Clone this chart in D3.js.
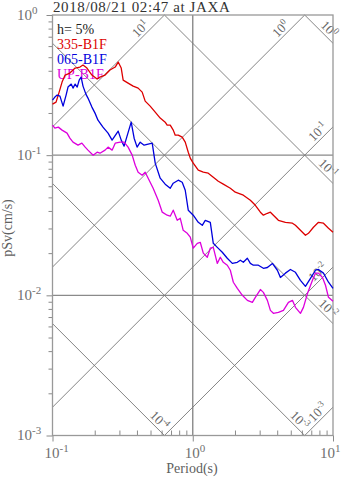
<!DOCTYPE html>
<html>
<head>
<meta charset="utf-8">
<script src="https://cdn.jsdelivr.net/npm/d3@7/dist/d3.min.js"></script>
<style>
  body { margin: 0; background: #fff; }
  svg { display: block; font-family: "Liberation Serif", "DejaVu Serif", serif; }
</style>
</head>
<body>
<div id="chart"></div>
<script>
// pSv spectra, h=5%, 2018/08/21 02:47 at JAXA
var periods335 = [0.100,0.106,0.111,0.117,0.123,0.133,0.145,0.157,0.165,0.176,0.191,0.208,0.218,0.237,0.257,0.280,0.294,0.309,0.319,0.346,0.376,0.408,0.436,0.458,0.497,0.540,0.586,0.636,0.657,0.691,0.726,0.750,0.788,0.841,0.884,0.929,0.960,1.008,1.095,1.189,1.290,1.401,1.521,1.651,1.853,2.012,2.295,2.575,2.795,3.035,3.189,3.405,3.578,3.758,4.080,4.579,5.137,5.397,5.860,6.362,6.683,7.256,7.877,8.552,9.288,10.0];
var sv335 = [0.2313,0.2391,0.2772,0.3322,0.3728,0.3853,0.4183,0.4252,0.4394,0.4183,0.3728,0.3490,0.3607,0.3728,0.4048,0.4252,0.4616,0.4183,0.3433,0.3267,0.3110,0.3010,0.2818,0.2430,0.2239,0.2028,0.1838,0.1720,0.1638,0.1638,0.1509,0.1389,0.1389,0.1344,0.1238,0.1050,0.0952,0.0877,0.0781,0.0756,0.0744,0.0697,0.0652,0.0621,0.0581,0.0544,0.0518,0.0477,0.0439,0.0392,0.0373,0.0385,0.0392,0.0373,0.0343,0.0332,0.0327,0.0316,0.0291,0.0268,0.0277,0.0306,0.0332,0.0327,0.0301,0.0282];

var periods065 = [0.100,0.104,0.108,0.113,0.119,0.125,0.129,0.136,0.140,0.145,0.150,0.155,0.160,0.165,0.173,0.179,0.191,0.201,0.211,0.229,0.249,0.266,0.294,0.309,0.324,0.340,0.364,0.382,0.401,0.422,0.450,0.481,0.514,0.540,0.586,0.636,0.691,0.726,0.788,0.841,0.884,0.929,1.008,1.095,1.169,1.228,1.334,1.401,1.496,1.624,1.763,1.915,2.079,2.184,2.295,2.451,2.575,2.705,2.937,3.189,3.405,3.698,4.013,4.217,4.579,4.972,5.397,5.860,6.362,6.907,7.499,7.877,8.552,9.288,10.0];
var sv065 = [0.2471,0.2596,0.2683,0.2638,0.2239,0.2683,0.3060,0.3215,0.3010,0.3215,0.3060,0.3433,0.3607,0.3110,0.2727,0.2553,0.2203,0.1995,0.1778,0.1585,0.1436,0.1280,0.1484,0.1280,0.1160,0.1366,0.1720,0.1322,0.1141,0.1238,0.1179,0.1199,0.1218,0.0877,0.0685,0.0621,0.0581,0.0631,0.0663,0.0641,0.0562,0.0405,0.0373,0.0332,0.0316,0.0343,0.0332,0.0235,0.0220,0.0203,0.0184,0.0169,0.0172,0.0178,0.0172,0.0184,0.0169,0.0164,0.0164,0.0156,0.0158,0.0169,0.0151,0.0134,0.0144,0.0153,0.0146,0.0128,0.0116,0.0132,0.0151,0.0153,0.0144,0.0124,0.0112];

var periodsUP = [0.100,0.104,0.110,0.117,0.127,0.133,0.140,0.152,0.162,0.171,0.179,0.195,0.208,0.218,0.237,0.249,0.266,0.280,0.304,0.324,0.346,0.370,0.389,0.408,0.436,0.458,0.481,0.522,0.567,0.606,0.657,0.691,0.726,0.775,0.814,0.855,0.914,0.960,1.008,1.077,1.131,1.189,1.269,1.334,1.401,1.496,1.572,1.651,1.763,1.853,1.947,2.079,2.258,2.451,2.661,2.795,3.035,3.189,3.405,3.578,3.758,4.080,4.431,4.810,5.137,5.397,5.860,6.155,6.574,7.138,7.499,7.877,8.414,8.840,9.288,10.0];
var svUP = [0.1638,0.1559,0.1585,0.1509,0.1436,0.1322,0.1238,0.1179,0.1218,0.1141,0.1086,0.1000,0.1050,0.1033,0.1086,0.1141,0.1086,0.1218,0.1238,0.1238,0.1141,0.1000,0.0848,0.0756,0.0720,0.0756,0.0685,0.0581,0.0477,0.0392,0.0373,0.0367,0.0405,0.0343,0.0355,0.0291,0.0277,0.0260,0.0217,0.0235,0.0239,0.0200,0.0187,0.0217,0.0220,0.0169,0.0187,0.0172,0.0164,0.0151,0.0124,0.0112,0.0100,0.00921,0.00891,0.00968,0.0110,0.0105,0.00921,0.00781,0.00744,0.00756,0.00781,0.00891,0.00921,0.00821,0.00744,0.00821,0.0103,0.0128,0.0144,0.0144,0.0134,0.0118,0.00968,0.00906];

var seriesNames = ["335-B1F", "065-B1F", "UP-B1F"];
var seriesColors = ["#dd0000", "#0000dd", "#dd00dd"];

// tripartite guide lines: acceleration (cm/s2) and displacement (cm)
var accelValues = [10, 1, 0.1, 0.01, 0.001];
var accelExps = ["1", "0", "-1", "-2", "-3"];
var dispValues = [1, 0.1, 0.01, 0.001, 0.0001];
var dispExps = ["0", "-1", "-2", "-3", "-4"];

var xTickValues = [0.1, 1, 10];
var xTickExps = ["-1", "0", "1"];
var yTickValues = [1, 0.1, 0.01, 0.001];
var yTickExps = ["0", "-1", "-2", "-3"];

var W = 347, H = 478;
var x = d3.scaleLog().domain([0.1, 10]).range([52.5, 333]);
var y = d3.scaleLog().domain([0.001, 1]).range([435.5, 15]);
var gray = "#8a8a8a";

var svg = d3.select("#chart").append("svg").attr("width", W).attr("height", H);

// minor tick values
var xMinor = [], yMinor = [];
[0.1, 1].forEach(function(b) { for (var m = 2; m <= 9; m++) xMinor.push(b * m); });
[0.001, 0.01, 0.1].forEach(function(b) { for (var m = 2; m <= 9; m++) yMinor.push(b * m); });

// axes (ticks only)
function grayTicks(g) { g.select(".domain").remove(); g.selectAll("line").attr("stroke", gray); }
svg.append("g").attr("transform", "translate(52.5,0)")
    .call(d3.axisLeft(y).tickValues(yMinor).tickSize(4).tickFormat("")).call(grayTicks);
svg.append("g").attr("transform", "translate(52.5,0)")
    .call(d3.axisLeft(y).tickValues(yTickValues).tickSize(6).tickFormat("")).call(grayTicks);
svg.append("g").attr("transform", "translate(0,435.5)")
    .call(d3.axisBottom(x).tickValues(xMinor).tickSizeInner(-5).tickSizeOuter(0).tickFormat("")).call(grayTicks);
svg.append("g").attr("transform", "translate(0,435.5)")
    .call(d3.axisBottom(x).tickValues(xTickValues).tickSize(6).tickFormat("")).call(grayTicks);

// major grid
svg.append("g").selectAll("line").data([0.1, 0.01]).enter().append("line")
    .attr("x1", x(0.1)).attr("x2", x(10)).attr("y1", function(d) { return y(d); }).attr("y2", function(d) { return y(d); })
    .attr("stroke", gray).attr("stroke-width", 1.4);
svg.append("g").selectAll("line").data([1]).enter().append("line")
    .attr("y1", y(1)).attr("y2", y(0.001)).attr("x1", function(d) { return x(d); }).attr("x2", function(d) { return x(d); })
    .attr("stroke", gray).attr("stroke-width", 1.4);

// diagonal lines
var twoPi = 2 * Math.PI;
var diag = [];
accelValues.forEach(function(a, i) {
    var t0 = Math.max(0.1, 0.001 * twoPi / a), t1 = Math.min(10, twoPi / a);
    diag.push({kind: "A", exp: accelExps[i], t0: t0, t1: t1, f: function(t) { return a * t / twoPi; }});
});
dispValues.forEach(function(dv, i) {
    var t0 = Math.max(0.1, twoPi * dv), t1 = Math.min(10, twoPi * dv / 0.001);
    diag.push({kind: "D", exp: dispExps[i], t0: t0, t1: t1, f: function(t) { return twoPi * dv / t; }});
});
var gDiag = svg.append("g");
diag.forEach(function(d) {
    gDiag.append("line")
        .attr("x1", x(d.t0)).attr("y1", y(d.f(d.t0)))
        .attr("x2", x(d.t1)).attr("y2", y(d.f(d.t1)))
        .attr("stroke", "#777").attr("stroke-width", 0.9);
    var ex = x(d.t1), ey = y(d.f(d.t1));
    var r = Math.SQRT1_2, back, norm, ang;
    if (d.kind === "A") { back = [-r, r]; norm = [-r, -r]; ang = -45; }
    else { back = [-r, -r]; norm = [r, -r]; ang = 45; }
    var s = (d.kind === "A" && d.t1 < 10) ? 18 : 4, n = 3;
    var px = ex + s * back[0] + n * norm[0], py = ey + s * back[1] + n * norm[1];
    var t = gDiag.append("text").attr("transform", "translate(" + px + "," + py + ") rotate(" + ang + ")")
        .attr("text-anchor", "end").attr("font-size", 13).attr("fill", "#666");
    t.append("tspan").text("10");
    t.append("tspan").attr("dy", -5).attr("font-size", 9).text(d.exp);
});

// frame
svg.append("rect").attr("x", 52.5).attr("y", 15).attr("width", 280.5).attr("height", 420.5)
    .attr("fill", "none").attr("stroke", "#999").attr("stroke-width", 1.3);

// tick labels
function pow10(g, exp, fs, fsSup) {
    g.append("tspan").text("10");
    g.append("tspan").attr("dy", -fs * 0.4).attr("font-size", fsSup).text(exp);
}
yTickValues.forEach(function(v, i) {
    var t = svg.append("text").attr("x", 17).attr("y", y(v) + 4.5).attr("font-size", 15).attr("fill", "#707070");
    pow10(t, yTickExps[i], 15, 11);
});
xTickValues.forEach(function(v, i) {
    var t = svg.append("text").attr("x", Math.min(x(v) - 8, 320)).attr("y", 458).attr("font-size", 15).attr("fill", "#707070");
    pow10(t, xTickExps[i], 15, 11);
});

// axis titles
svg.append("text").attr("x", 192).attr("y", 473).attr("text-anchor", "middle")
    .attr("font-size", 14).attr("fill", "#606060").text("Period(s)");
svg.append("text").attr("transform", "translate(12,228) rotate(-90)").attr("text-anchor", "middle")
    .attr("font-size", 14).attr("fill", "#606060").text("pSv(cm/s)");

// title
svg.append("text").attr("x", 53).attr("y", 12).attr("font-size", 15).attr("letter-spacing", 0.6)
    .attr("fill", "#333").text("2018/08/21 02:47 at JAXA");

// legend
svg.append("text").attr("x", 57).attr("y", 34).attr("font-size", 14).attr("fill", "#222").text("h= 5%");
seriesNames.forEach(function(name, i) {
    svg.append("text").attr("x", 57).attr("y", 49 + i * 15).attr("font-size", 14)
        .attr("fill", seriesColors[i]).text(name);
});

// curves
var line = d3.line().x(function(d) { return x(d[0]); }).y(function(d) { return y(d[1]); });
var allSeries = [d3.zip(periods335, sv335), d3.zip(periods065, sv065), d3.zip(periodsUP, svUP)];
allSeries.forEach(function(data, i) {
    svg.append("path").datum(data).attr("d", line)
        .attr("fill", "none").attr("stroke", seriesColors[i]).attr("stroke-width", 1.3)
        .attr("stroke-linejoin", "round");
});
</script>
</body>
</html>
